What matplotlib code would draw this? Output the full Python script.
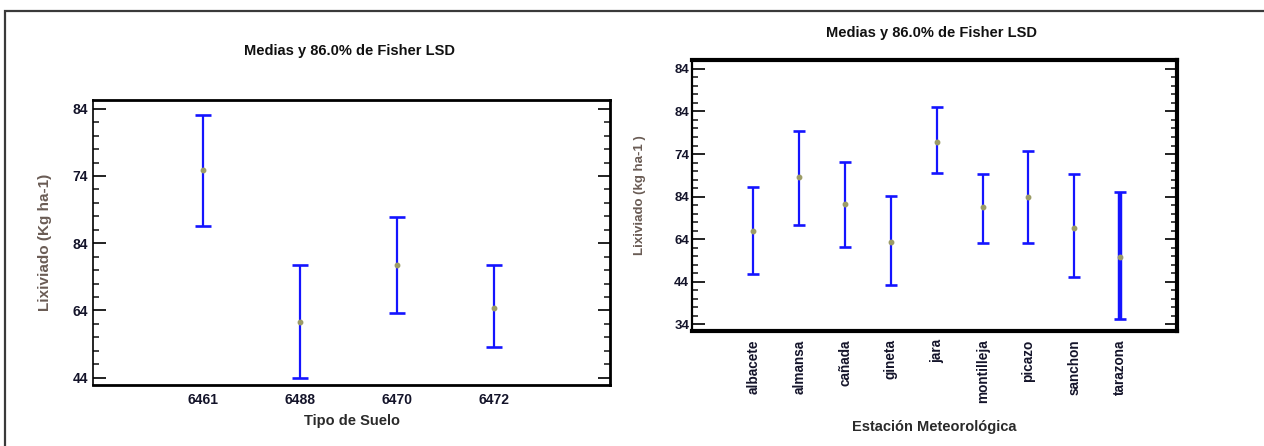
import matplotlib
matplotlib.use("Agg")
import matplotlib.pyplot as plt
from matplotlib.patches import Rectangle
from matplotlib.ticker import FixedLocator, MultipleLocator

plt.rcParams['font.family'] = ['Liberation Sans', 'DejaVu Sans']

# --- datos: Tipo de Suelo (izquierda) ---
suelos = ["6461", "6488", "6470", "6472"]
suelo_media = [74.9, 52.3, 60.8, 54.3]
suelo_inf = [66.6, 44.0, 53.6, 48.5]
suelo_sup = [83.1, 60.7, 67.9, 60.7]
suelo_yticks = [44, 54, 64, 74, 84]
suelo_yticklabels = ["44", "64", "84", "74", "84"]

# --- datos: Estacion Meteorologica (derecha) ---
estaciones = ["albacete", "almansa", "cañada", "gineta", "jara",
              "montilleja", "picazo", "sanchon", "tarazona"]
est_media = [55.8, 68.5, 62.2, 53.4, 76.9, 61.5, 63.8, 56.6, 49.7]
est_inf = [45.7, 57.2, 52.1, 43.1, 69.5, 53.2, 53.2, 45.1, 35.2]
est_sup = [66.3, 79.5, 72.1, 64.2, 85.1, 69.4, 74.8, 69.4, 65.0]
est_yticks = [34, 44, 54, 64, 74, 84, 94]
est_yticklabels = ["34", "44", "64", "84", "74", "84", "84"]

titulo = "Medias y 86.0% de Fisher LSD"

AZUL = "#1414ff"
PUNTO = "#9c9c66"
TEXTO = "#14142a"
YLAB = "#6a5c55"

fig = plt.figure(figsize=(12.64, 4.46), dpi=100)

# marco exterior del documento
fig.add_artist(Rectangle((5 / 1264, -0.05), 1.1, 0.05 + (446 - 11) / 446,
                         transform=fig.transFigure, fill=False,
                         edgecolor="#3a3a3a", linewidth=1.6))


def dibujar(ax, nombres, media, inf, sup, capsize, grueso=None):
    x = list(range(1, len(nombres) + 1))
    for i in range(len(nombres)):
        lw = 3.2 if nombres[i] == grueso else 1.6
        ax.errorbar(x[i], media[i],
                    yerr=[[media[i] - inf[i]], [sup[i] - media[i]]],
                    fmt="none", ecolor=AZUL, elinewidth=lw,
                    capsize=capsize, capthick=1.9)
    ax.plot(x, media, "o", color=PUNTO, markersize=3.2, zorder=3)
    ax.set_xticks(x)
    ax.set_xticklabels(nombres)
    ax.yaxis.set_minor_locator(MultipleLocator(2))
    ax.tick_params(axis="y", which="both", direction="in", left=True,
                   right=True, labelleft=True, colors="#111111",
                   labelcolor=TEXTO)
    ax.tick_params(axis="y", which="major", length=9, width=1.3,
                   labelsize=10)
    ax.tick_params(axis="y", which="minor", length=4.5, width=1.1)
    ax.tick_params(axis="x", which="both", length=0, labelsize=10,
                   labelcolor=TEXTO)
    for lbl in ax.get_xticklabels() + ax.get_yticklabels():
        lbl.set_fontweight("bold")


# --- grafico izquierdo ---
ax1 = fig.add_axes([93 / 1264, (446 - 385) / 446, 517 / 1264, 285 / 446])
dibujar(ax1, suelos, suelo_media, suelo_inf, suelo_sup, capsize=6)
ax1.set_xlim(-0.13, 5.2)
ax1.set_ylim(42.9, 85.3)
ax1.yaxis.set_major_locator(FixedLocator(suelo_yticks))
ax1.set_yticklabels(suelo_yticklabels, fontweight="bold")
ax1.tick_params(axis="x", pad=6)
ax1.spines["left"].set_linewidth(1.2)
for s in ["top", "right", "bottom"]:
    ax1.spines[s].set_linewidth(2.0)
ax1.set_xlabel("Tipo de Suelo", fontsize=10.5, fontweight="bold",
               color="#2a2a2a", labelpad=5)
ax1.set_ylabel("Lixiviado (Kg ha-1)", fontsize=11, color=YLAB,
               fontweight="bold", labelpad=15)
fig.text(350 / 1264, 1 - 51 / 446, titulo, ha="center", va="center",
         fontsize=10.5, fontweight="bold", color="#111111")

# --- grafico derecho ---
ax2 = fig.add_axes([692 / 1264, (446 - 331) / 446, 485 / 1264, 271 / 446])
dibujar(ax2, estaciones, est_media, est_inf, est_sup, capsize=4.5,
        grueso="tarazona")
ax2.set_xlim(-0.34, 10.24)
ax2.set_ylim(32.4, 96.1)
ax2.yaxis.set_major_locator(FixedLocator(est_yticks))
ax2.set_yticklabels(est_yticklabels, fontweight="bold")
ax2.tick_params(axis="y", labelsize=9.5, pad=2)
ax2.tick_params(axis="x", labelsize=9.8, rotation=90, pad=6)
for s in ["top", "right", "bottom"]:
    ax2.spines[s].set_linewidth(3.0)
ax2.spines["left"].set_linewidth(1.6)
ax2.set_xlabel("Estación Meteorológica", fontsize=10.5, fontweight="bold",
               color="#2a2a2a", labelpad=12)
ax2.set_ylabel("Lixiviado (kg ha-1 )", fontsize=9.5, color=YLAB,
               fontweight="bold", labelpad=20)
fig.text(932 / 1264, 1 - 33 / 446, titulo, ha="center", va="center",
         fontsize=10.5, fontweight="bold", color="#111111")

fig.savefig("out.png", dpi=100, facecolor="white")
